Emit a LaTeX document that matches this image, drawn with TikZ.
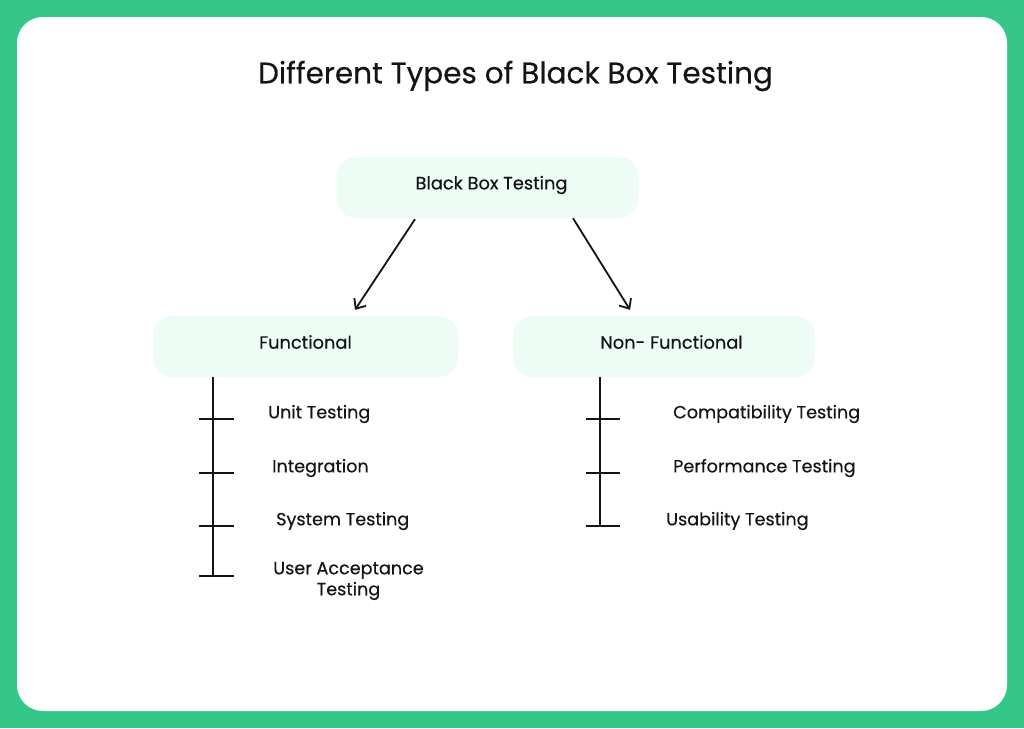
\documentclass[tikz,border=0pt]{standalone}
\usepackage{fontspec}
\setmainfont{Poppins}[BoldFont=Poppins, BoldFeatures={FakeBold=0.35}]
\usetikzlibrary{calc,arrows.meta}
\definecolor{frame}{RGB}{52,199,135}
\definecolor{mint}{RGB}{238,252,246}
\definecolor{ink}{RGB}{20,20,20}
\tikzset{
  catbox/.style={fill=mint, draw=none, rounded corners=20pt, minimum width=302pt, minimum height=61pt, inner sep=0pt},
  boxtext/.style={font=\bfseries\fontsize{17.8}{20}\selectfont, text=ink, inner sep=0pt},
  item/.style={anchor=west, font=\bfseries\fontsize{17.6}{21}\selectfont, text=ink, inner sep=0pt},
  link/.style={line width=1.8pt, ink, -{Straight Barb[length=8pt,width=14pt,line width=1.8pt]}},
  stem/.style={line width=1.8pt, ink},
}
\begin{document}
\begin{tikzpicture}[x=1pt,y=-1pt]
\useasboundingbox (0,0) rectangle (1024,728);
\fill[frame] (0,0) rectangle (1024,728);
\fill[white, rounded corners=26pt] (17,17) rectangle (1007,711);
\node[font=\bfseries\fontsize{29.5}{33}\selectfont, text=ink, inner sep=0pt] (title) at (515.5,76) {Different Types of Black Box Testing};
\node[catbox] (bbt) at (487.5,187.5) {};
\node[boxtext] (bbtt) at (491.5,185) {Black Box Testing};
\node[catbox, minimum width=305pt] (func) at (305.5,346.5) {};
\node[boxtext] (funct) at (305.5,342) {Functional};
\node[catbox] (nonf) at (664,346.5) {};
\node[boxtext] (nonft) at (671.5,342) {Non- Functional};
\draw[link] ($(bbt.south)+(-72.5,1)$) -- ($(func.north)+(49.5,-6)$);
\draw[link] ($(bbt.south)+(85.5,0)$) -- ($(nonf.north)+(-34,-6)$);
% functional stem
\coordinate (f1) at ($(func.south)+(-92.5,42)$);
\coordinate (f2) at ($(func.south)+(-92.5,96)$);
\coordinate (f3) at ($(func.south)+(-92.5,149)$);
\coordinate (f4) at ($(func.south)+(-92.5,199)$);
\draw[stem] (func.south -| f1) -- (f4);
\foreach \c in {f1,f2,f3,f4} \draw[stem] ($(\c)+(-14,0)$) -- ($(\c)+(21,0)$);
\node[item] (u1) at (268,414) {Unit Testing};
\node[item] (u2) at (272,468) {Integration};
\node[item] (u3) at (276,521) {System Testing};
\node[item, align=center, anchor=center] (u4) at (348.5,581) {User Acceptance\\Testing};
% non-functional stem
\coordinate (n1) at ($(nonf.south)+(-64,42)$);
\coordinate (n2) at ($(nonf.south)+(-64,96)$);
\coordinate (n3) at ($(nonf.south)+(-64,149)$);
\draw[stem] (nonf.south -| n1) -- (n3);
\foreach \c in {n1,n2,n3} \draw[stem] ($(\c)+(-14,0)$) -- ($(\c)+(20,0)$);
\node[item] (v1) at (673,414) {Compatibility Testing};
\node[item] (v2) at (673,468) {Performance Testing};
\node[item] (v3) at (666,521) {Usability Testing};
\end{tikzpicture}
\end{document}
